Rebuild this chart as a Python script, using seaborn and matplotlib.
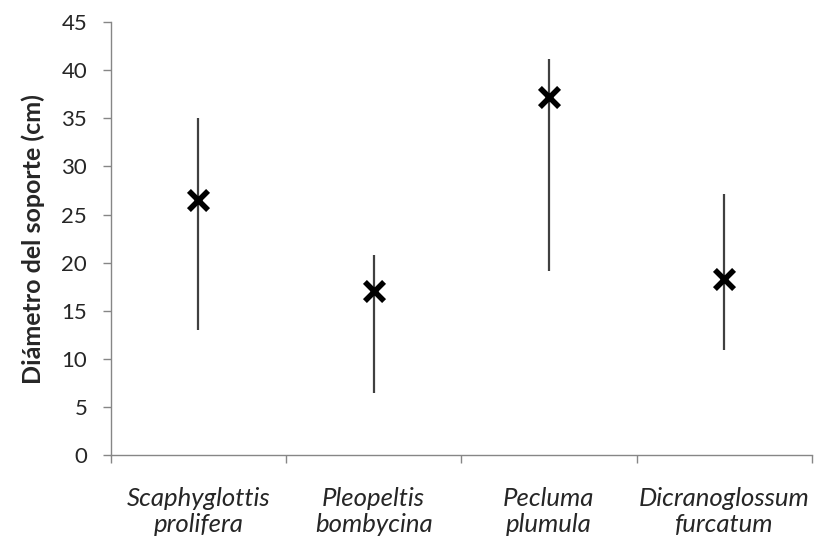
import matplotlib
matplotlib.use("Agg")
import matplotlib.pyplot as plt
import seaborn as sns
import pandas as pd
from matplotlib.ticker import FixedLocator, NullFormatter

# --- data ---
species = ["Scaphyglottis\nprolifera", "Pleopeltis\nbombycina",
           "Pecluma\nplumula", "Dicranoglossum\nfurcatum"]
low = [13.0, 6.4, 19.1, 10.9]
high = [35.0, 20.8, 41.2, 27.1]
mean = [26.5, 17.1, 37.2, 18.3]

df = pd.DataFrame({"species": species, "low": low, "high": high, "mean": mean})

sns.set_theme(style="white")
plt.rcParams['font.family'] = ['Lato', 'DejaVu Sans']

fig = plt.figure(figsize=(8.15, 5.42), dpi=100)
ax = fig.add_axes([0.136, 0.1605, 0.86, 0.7985])

pos = list(range(len(df)))
ax.vlines(pos, df["low"], df["high"], color="#404040", linewidth=1.6, zorder=2)
sns.scatterplot(x=pos, y=df["mean"], marker="x", s=190, color="black",
                linewidth=4, ax=ax, zorder=3)

ax.set_xlim(-0.5, len(df) - 0.5)
ax.set_ylim(0, 45)
ax.set_yticks(range(0, 46, 5))

# category boundaries as major ticks, labels on minor ticks
ax.xaxis.set_major_locator(FixedLocator([i - 0.5 for i in range(len(df) + 1)]))
ax.xaxis.set_major_formatter(NullFormatter())
ax.xaxis.set_minor_locator(FixedLocator(pos))
ax.set_xticklabels(df["species"], minor=True, fontstyle="italic", fontsize=18.5,
                   linespacing=1.15)
ax.tick_params(axis="x", which="minor", bottom=True, length=0, pad=23)
ax.tick_params(axis="x", which="major", bottom=True, length=6, width=1,
               color="#868686", direction="out")
ax.tick_params(axis="y", left=True, length=6, width=1, color="#868686",
               direction="out", labelsize=16, pad=11)

for s in ["top", "right"]:
    ax.spines[s].set_visible(False)
for s in ["left", "bottom"]:
    ax.spines[s].set_color("#868686")
    ax.spines[s].set_linewidth(1)

ax.set_xlabel("")
ax.set_ylabel("Diámetro del soporte (cm)", fontsize=18, fontweight="bold", labelpad=12)

fig.savefig("out.png", dpi=100)
